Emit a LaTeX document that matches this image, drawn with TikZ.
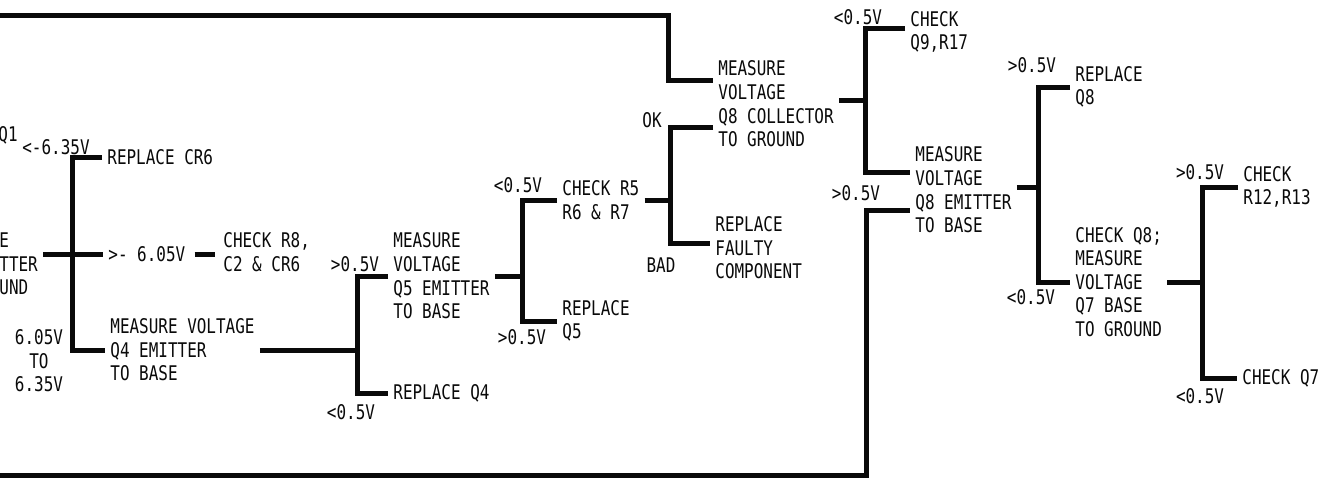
\documentclass[tikz,border=0pt]{standalone}
\usepackage{fontspec}
\newfontfamily\plotter{DejaVu Sans Mono}[FakeStretch=0.79]
\usetikzlibrary{calc}
\definecolor{ink}{RGB}{10,10,10}

\begin{document}
\begin{tikzpicture}[
  x=0.5pt, y=-0.5pt,
  font=\plotter\fontsize{10.1}{11.8}\selectfont,
  every node/.style={inner sep=2.5pt, text=ink},
  txt/.style={anchor=west, align=left},
  volt/.style={anchor=center, align=center},
  wire/.style={draw=ink, line width=2.5pt},
]
\useasboundingbox (0,0) rectangle (1326,479);
\fill[white] (0,0) rectangle (1326,479);
\clip (0,0) rectangle (1326,479);

% ---------------- Q1 check (cut at the left edge) ----------------
\node[txt] (q1)    at (-6,264)  {E\\TTER\\UND};
\node[txt] (q1top) at (-7,135)  {Q1};
\node[volt] (v635) at (56,147)  {<-6.35V};
\node[txt] (rcr6)  at (102,157) {REPLACE CR6};
\node[txt] (l605)  at (103,254) {>- 6.05V};
\node[txt] (cr8)   at (218,252) {CHECK R8,\\C2 \& CR6};
\node[txt] (q4)    at (105,350) {MEASURE VOLTAGE\\Q4 EMITTER\\TO BASE};
\node[volt] (v605) at (39,361)  {6.05V\\TO\\6.35V};

\coordinate (j1) at (72,254);
\draw[wire] (rcr6.west) -| (j1) |- (q4.west);
\draw[wire] (q1.east |- j1) -- (l605.west);
\draw[wire, shorten <=2pt, shorten >=1.5pt] (l605.east) -- (l605.east -| cr8.west);

% ---------------- Q4 / Q5 ----------------
\node[volt] (vq5a) at (355,264) {>0.5V};
\node[volt] (vq4)  at (351,412) {<0.5V};
\node[txt] (q5)    at (388,276) {MEASURE\\VOLTAGE\\Q5 EMITTER\\TO BASE};
\node[txt] (rq4)   at (388,393) {REPLACE Q4};

\coordinate (j4) at (357,350);
\draw[wire] (q4.east) -- (j4);
\draw[wire] (q5.west) -| (j4) |- (rq4.west);

\node[volt] (vr5)  at (518,185) {<0.5V};
\node[txt] (cr5)   at (557,200) {CHECK R5\\R6 \& R7};
\node[txt] (rq5)   at (557,321) {REPLACE\\Q5};
\node[volt] (vq5b) at (522,337) {>0.5V};

\coordinate (j5) at (522,276);
\draw[wire] (q5.east) -- (j5);
\draw[wire] (cr5.west) -| (j5) |- (rq5.west);

% ---------------- R5 / Q8 collector ----------------
\node[volt] (ok)  at (652,120) {OK};
\node[volt] (bad) at (661,265) {BAD};
\node[txt] (q8c)  at (713,104) {MEASURE\\VOLTAGE\\Q8 COLLECTOR\\TO GROUND};
\node[txt] (rfc)  at (710,248) {REPLACE\\FAULTY\\COMPONENT};

\coordinate (jr) at (670,200);
\draw[wire] (cr5.east) -- (jr);
\draw[wire] ($(q8c.west)+(0,23)$) -| (jr) |- ($(rfc.west)+(0,-5)$);

% loop round the top
\coordinate (tl) at (0,15);
\coordinate (t1) at (668,15);
\draw[wire] (tl) -- (t1) |- ($(q8c.west)+(0,-24)$);

\node[volt] (vq9)  at (858,17)  {<0.5V};
\node[txt] (cq9)   at (905,32)  {CHECK\\Q9,R17};
\node[volt] (vq8e) at (856,193) {>0.5V};
\node[txt] (q8e)   at (910,190) {MEASURE\\VOLTAGE\\Q8 EMITTER\\TO BASE};

\coordinate (jc) at (865,100);
\draw[wire] (q8c.east |- jc) -- (jc);
\draw[wire] ($(cq9.west)+(0,-4)$) -| (jc) |- ($(q8e.west)+(0,-18)$);

% loop round the bottom
\coordinate (bl) at (0,475);
\coordinate (b1) at (866,475);
\draw[wire] (bl) -- (b1) |- ($(q8e.west)+(0,20)$);

% ---------------- Q8 emitter / Q7 base ----------------
\node[volt] (vq8a) at (1032,65)  {>0.5V};
\node[txt] (rq8)   at (1070,87)  {REPLACE\\Q8};
\node[volt] (vq8b) at (1031,297) {<0.5V};
\node[txt] (q7)    at (1070,282) {CHECK Q8;\\MEASURE\\VOLTAGE\\Q7 BASE\\TO GROUND};

\coordinate (je) at (1038,187);
\draw[wire] (q8e.east |- je) -- (je);
\draw[wire] (rq8.west) -| (je) |- (q7.west);

\node[volt] (vr12) at (1200,172) {>0.5V};
\node[txt] (cr12)  at (1238,187) {CHECK\\R12,R13};
\node[txt] (cq7)   at (1237,378) {CHECK Q7};
\node[volt] (vq7)  at (1200,396) {<0.5V};

\coordinate (jq7) at (1202,282);
\draw[wire] (q7.east |- jq7) -- (jq7);
\draw[wire] (cr12.west) -| (jq7) |- (cq7.west);

\end{tikzpicture}
\end{document}
